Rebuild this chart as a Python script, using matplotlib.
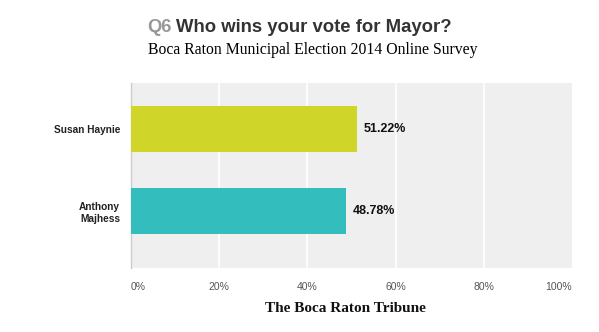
import numpy as np
import matplotlib.pyplot as plt

# ---------- Datos ----------
candidates = ["Anthony\nMajhess", "Susan Haynie"]
votes = [48.78, 51.22]
bar_colors = ["#33bdbd", "#cfd629"]
xticks = [0, 20, 40, 60, 80, 100]
xtick_labels = ["0%", "20%", "40%", "60%", "80%", "100%"]

# ---------- Figura ----------
fig = plt.figure(figsize=(5.99, 3.32), dpi=100)
fig.patch.set_facecolor("white")
ax = fig.add_axes([131 / 599, 1 - 268 / 332, 441 / 599, 185 / 332])
ax.set_facecolor("#efefef")

ypos = np.arange(len(candidates))
ax.barh(ypos, votes, height=0.56, color=bar_colors, zorder=3)
ax.set_xlim(0, 100)
ax.set_ylim(-0.695, 1.561)

for x in xticks[1:-1]:
    ax.axvline(x, color="white", lw=1.2, zorder=1)

for s in ["top", "right", "bottom"]:
    ax.spines[s].set_visible(False)
ax.spines["left"].set_color("#cccccc")
ax.spines["left"].set_linewidth(1)

ax.set_yticks(ypos)
ax.set_yticklabels(candidates, fontsize=7.3, fontweight="bold", color="#222222",
                   family="Liberation Sans")
ax.tick_params(axis="y", length=0, pad=8)

ax.set_xticks([])
for x, lab in zip(xticks, xtick_labels):
    ha = "left" if x == 0 else ("right" if x == 100 else "center")
    ax.text(x, -0.695 - 0.17, lab, ha=ha, va="top", fontsize=7.5,
            color="#555555", family="Liberation Sans")

for y, v in zip(ypos, votes):
    ax.text(v + 1.6, y, f"{v:.2f}%", va="center", ha="left", fontsize=9,
            fontweight="bold", color="#111111", family="Liberation Sans", zorder=4)

# ---------- Títulos ----------
q = fig.text(147 / 599, 1 - 27 / 332, "Q6", fontsize=13.3, fontweight="bold",
             color="#999999", va="center", family="Liberation Sans")
fig.canvas.draw()
bb = q.get_window_extent().transformed(fig.transFigure.inverted())
fig.text(bb.x1 + 5 / 599, 1 - 27 / 332, "Who wins your vote for Mayor?", fontsize=13.3,
         fontweight="bold", color="#333333", va="center", family="Liberation Sans")
fig.text(148 / 599, 1 - 50 / 332, "Boca Raton Municipal Election 2014 Online Survey",
         fontsize=11.3, color="black", va="center", family="Liberation Serif")
fig.text(345 / 599, 1 - 309 / 332, "The Boca Raton Tribune", fontsize=11,
         fontweight="bold", color="#111111", va="center", ha="center",
         family="Liberation Serif")

fig.savefig("out.png", dpi=100)
